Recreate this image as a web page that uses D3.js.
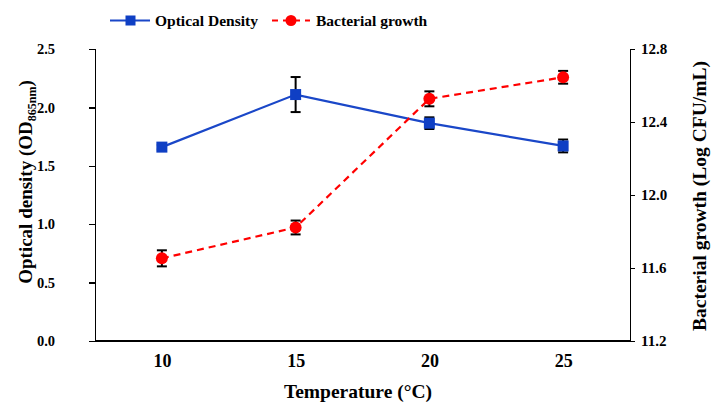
<!DOCTYPE html>
<head>
  <meta charset="utf-8">
  <style>
    body { margin: 0; background: #fff; }
    text { font-family: "Liberation Serif", "DejaVu Serif", serif; font-weight: bold; fill: #000; }
    .axis path, .axis line { stroke: #000; stroke-width: 1.3; shape-rendering: crispEdges; }
    .axis text { font-size: 15px; }
    .y-left.axis text { font-size: 14.5px; }
    .x.axis text { font-size: 18px; }
  </style>
  <script src="https://cdnjs.cloudflare.com/ajax/libs/d3/7.8.5/d3.min.js"></script>
</head>
<body>
  <script>
    const temps = ['10', '15', '20', '25'];
    const odValues = [1.66, 2.11, 1.865, 1.67];
    const odErrors = [0.02, 0.15, 0.05, 0.055];
    const growthValues = [11.653, 11.822, 12.527, 12.645];
    const growthErrors = [0.044, 0.038, 0.041, 0.035];
    const odTicks = [0, 0.5, 1.0, 1.5, 2.0, 2.5];
    const growthTicks = [11.2, 11.6, 12.0, 12.4, 12.8];

    const w = 714, h = 407;
    const padL = 95, padR = 630, padT = 49, padB = 341;

    const svg = d3.select('body').append('svg')
      .attr('width', w)
      .attr('height', h);

    const xScale = d3.scalePoint()
      .domain(temps)
      .range([padL, padR])
      .padding(0.5);

    const yLeft = d3.scaleLinear().domain([0, 2.5]).range([padB, padT]);
    const yRight = d3.scaleLinear().domain([11.2, 12.8]).range([padB, padT]);

    // axes
    svg.append('g')
      .attr('class', 'y-left axis')
      .attr('transform', `translate(${padL},0)`)
      .call(d3.axisLeft(yLeft).tickValues(odTicks).tickFormat(d3.format('.1f')).tickSizeInner(6).tickSizeOuter(6).tickPadding(34));

    svg.append('g')
      .attr('class', 'axis')
      .attr('transform', `translate(${padR},0)`)
      .call(d3.axisRight(yRight).tickValues(growthTicks).tickFormat(d3.format('.1f')).tickSizeInner(5).tickSizeOuter(5).tickPadding(6));

    const xAxis = svg.append('g')
      .attr('class', 'x axis')
      .attr('transform', `translate(0,${padB})`)
      .call(d3.axisBottom(xScale).tickSize(0).tickSizeOuter(0));
    xAxis.select('.domain').attr('d', `M${padL},0H${padR}`);
    xAxis.selectAll('text').attr('dy', 0).attr('y', 26);

    // axis titles
    svg.append('text')
      .attr('x', 358)
      .attr('y', 398)
      .attr('text-anchor', 'middle')
      .attr('font-size', 19.5)
      .text('Temperature (°C)');

    const yt = svg.append('text')
      .attr('transform', 'translate(32,182) rotate(-90)')
      .attr('text-anchor', 'middle')
      .attr('font-size', 19);
    yt.append('tspan').text('Optical density (OD');
    yt.append('tspan').attr('font-size', 12).attr('dy', 4).text('865nm');
    yt.append('tspan').attr('dy', -4).text(')');

    svg.append('text')
      .attr('transform', 'translate(706,196) rotate(-90)')
      .attr('text-anchor', 'middle')
      .attr('font-size', 19.5)
      .text('Bacterial growth (Log CFU/mL)');

    // series
    const odLine = d3.line()
      .x((d, i) => xScale(temps[i]))
      .y(d => yLeft(d));
    const growthLine = d3.line()
      .x((d, i) => xScale(temps[i]))
      .y(d => yRight(d));

    svg.append('path')
      .datum(odValues)
      .attr('d', odLine)
      .attr('fill', 'none')
      .attr('stroke', '#1a47c8')
      .attr('stroke-width', 2.2);

    svg.append('path')
      .datum(growthValues)
      .attr('d', growthLine)
      .attr('fill', 'none')
      .attr('stroke', '#ff0000')
      .attr('stroke-width', 2.2)
      .attr('stroke-dasharray', '7,5');

    function errorBars(values, errors, scale) {
      const g = svg.append('g').attr('stroke', '#000').attr('stroke-width', 2);
      values.forEach((v, i) => {
        const x = xScale(temps[i]);
        const y1 = scale(v - errors[i]), y2 = scale(v + errors[i]);
        g.append('line').attr('x1', x).attr('x2', x).attr('y1', y1).attr('y2', y2);
        g.append('line').attr('x1', x - 5).attr('x2', x + 5).attr('y1', y1).attr('y2', y1);
        g.append('line').attr('x1', x - 5).attr('x2', x + 5).attr('y1', y2).attr('y2', y2);
      });
    }
    errorBars(odValues, odErrors, yLeft);
    errorBars(growthValues, growthErrors, yRight);

    svg.selectAll('.od-pt')
      .data(odValues)
      .enter()
      .append('rect')
      .attr('x', (d, i) => xScale(temps[i]) - 5.5)
      .attr('y', d => yLeft(d) - 5.5)
      .attr('width', 11)
      .attr('height', 11)
      .attr('fill', '#0f3fc4');

    svg.selectAll('.gr-pt')
      .data(growthValues)
      .enter()
      .append('circle')
      .attr('cx', (d, i) => xScale(temps[i]))
      .attr('cy', d => yRight(d))
      .attr('r', 6)
      .attr('fill', '#ff0000');

    // legend
    const lg = svg.append('g').attr('transform', 'translate(0,20.5)');
    lg.append('line').attr('x1', 110).attr('x2', 150).attr('y1', 0).attr('y2', 0)
      .attr('stroke', '#1a47c8').attr('stroke-width', 2.2);
    lg.append('rect').attr('x', 125.5).attr('y', -5).attr('width', 10).attr('height', 10).attr('fill', '#0f3fc4');
    lg.append('text').attr('x', 155).attr('y', 5).attr('font-size', 15.5).text('Optical Density');

    lg.append('line').attr('x1', 272).attr('x2', 310).attr('y1', 0).attr('y2', 0)
      .attr('stroke', '#ff0000').attr('stroke-width', 2.2).attr('stroke-dasharray', '6,5');
    lg.append('circle').attr('cx', 291).attr('cy', 0).attr('r', 5.5).attr('fill', '#ff0000');
    lg.append('text').attr('x', 316).attr('y', 5).attr('font-size', 15.5).text('Bacterial growth');
  </script>
</body>
